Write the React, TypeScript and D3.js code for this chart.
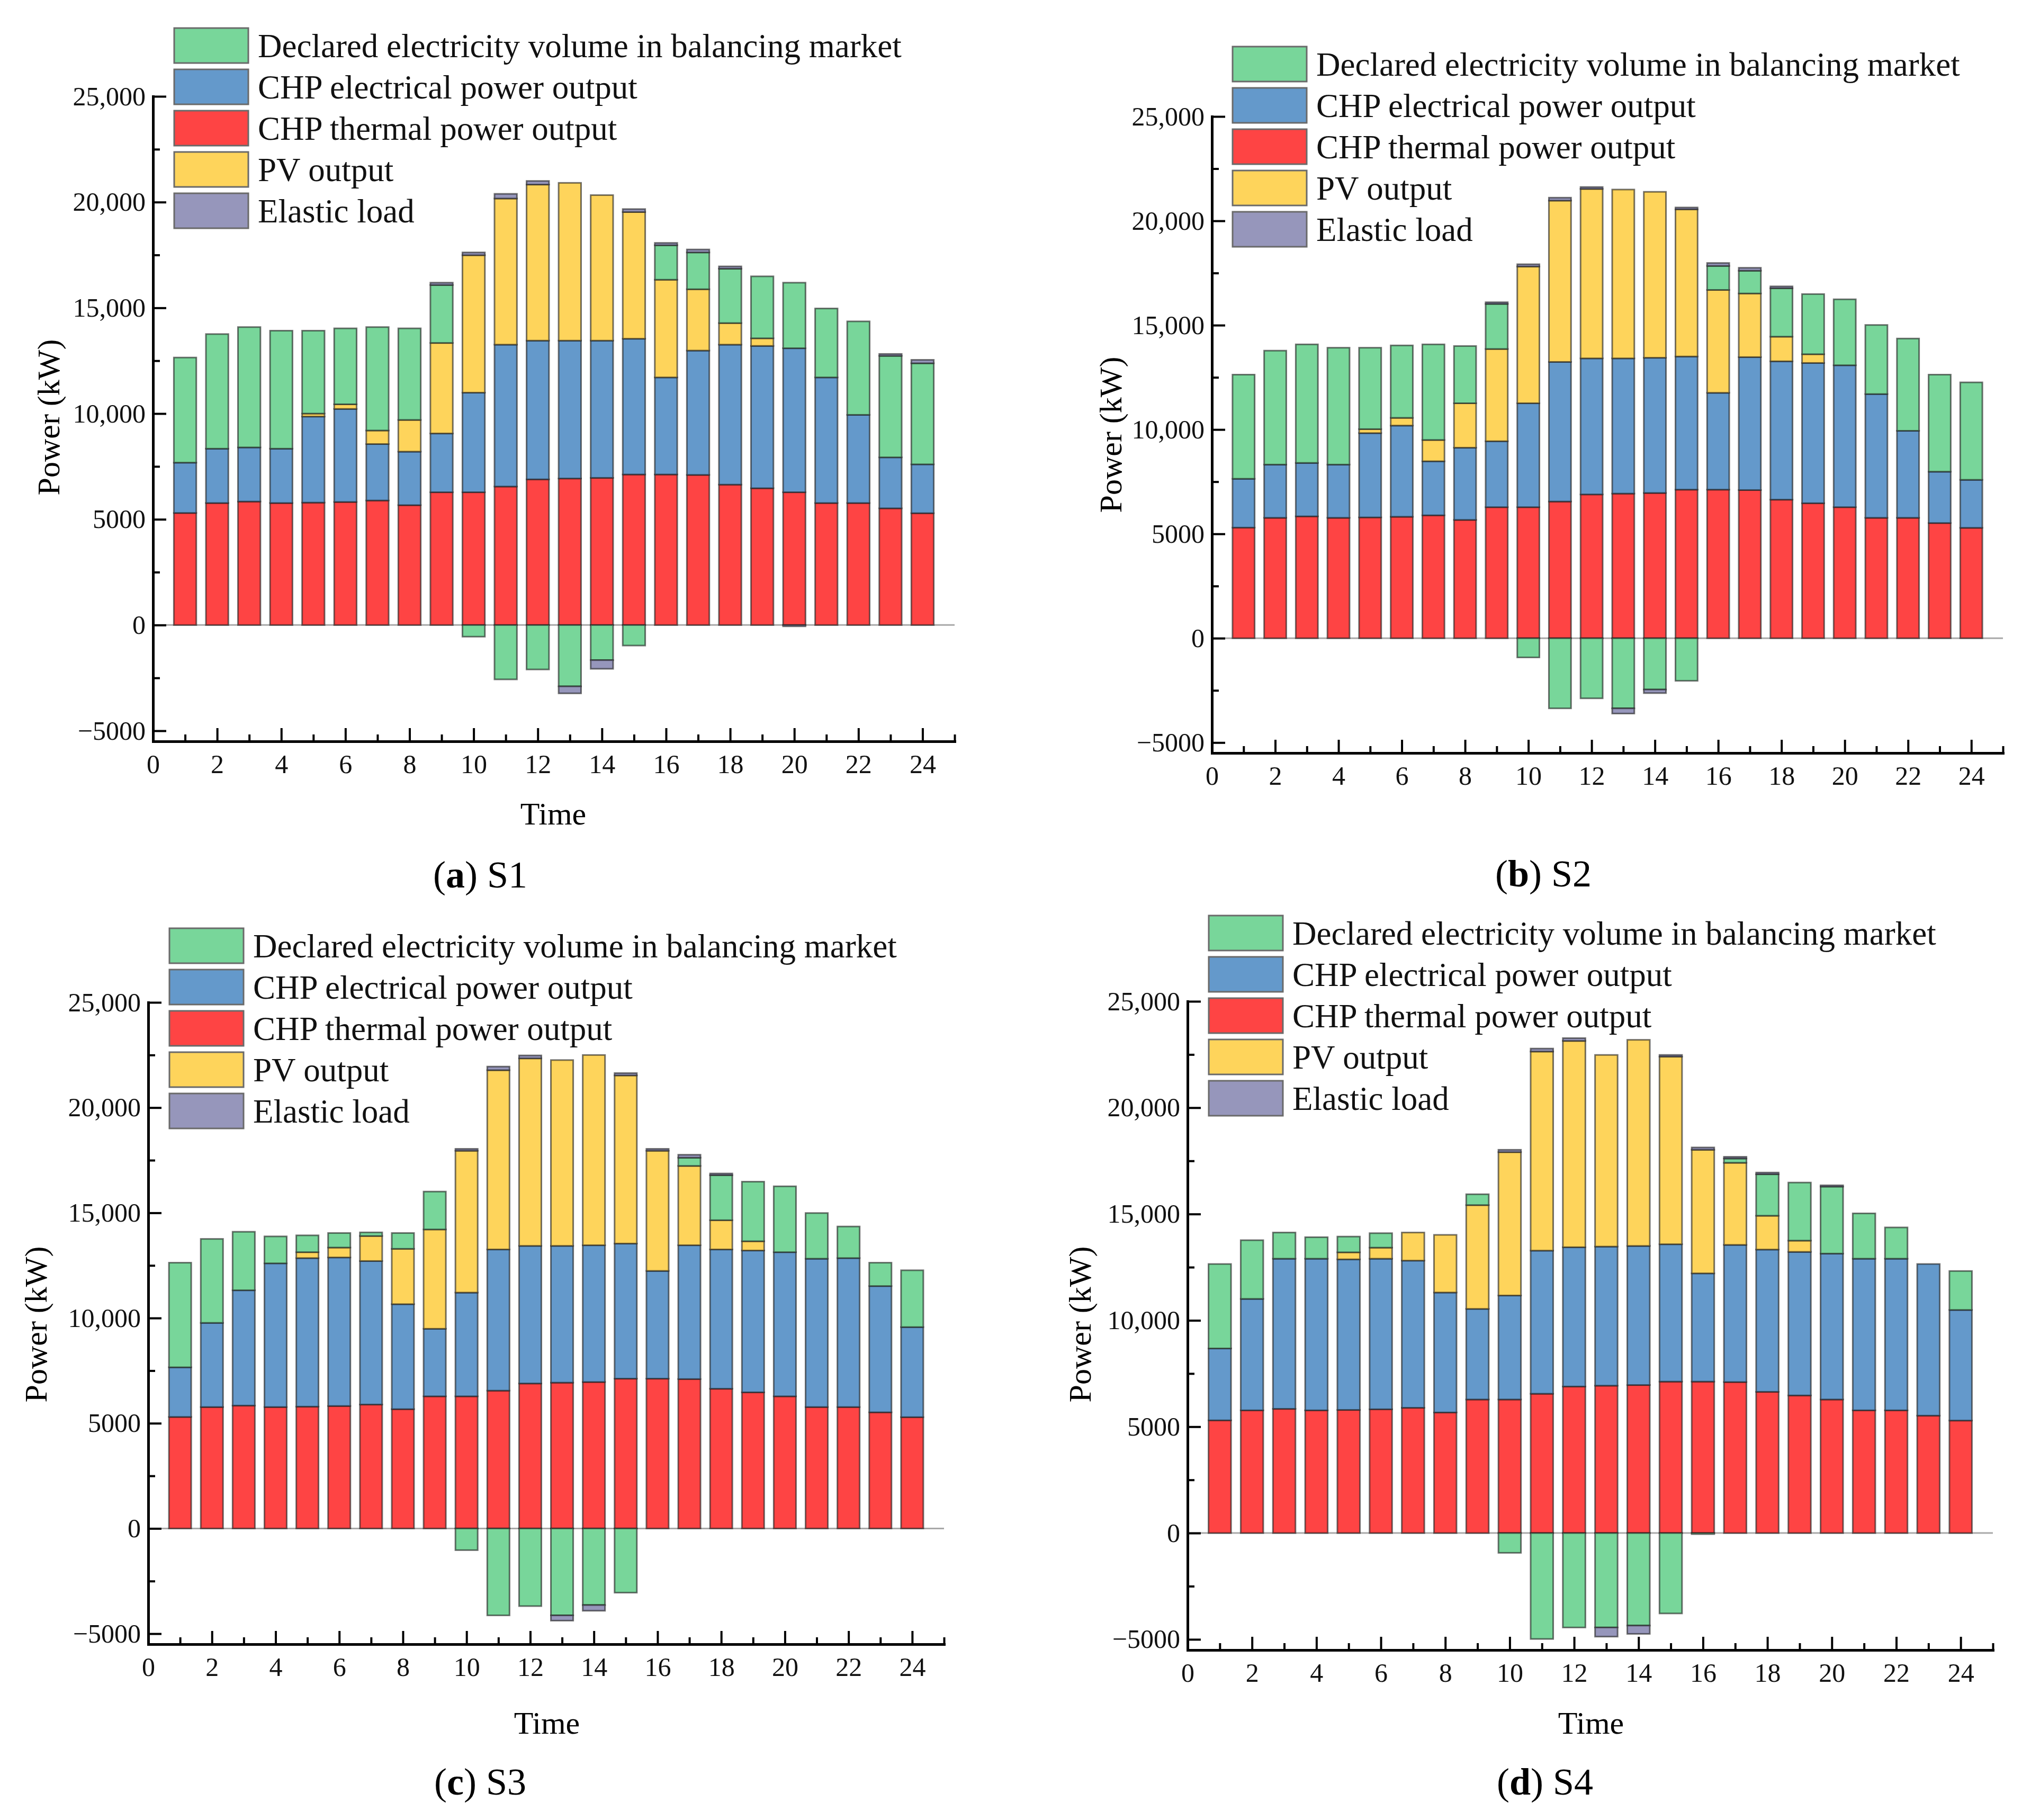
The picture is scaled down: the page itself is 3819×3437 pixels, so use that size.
import { useEffect, useRef } from "react";
import * as d3 from "d3";

// hours of the day
const HOURS = [1, 2, 3, 4, 5, 6, 7, 8, 9, 10, 11, 12, 13, 14, 15, 16, 17, 18, 19, 20, 21, 22, 23, 24];

// CHP thermal power output (same in every scenario)
const THERMAL = [5300, 5770, 5840, 5770, 5790, 5820, 5890, 5670, 6280, 6280, 6550, 6890, 6930, 6960, 7120, 7120, 7100, 6640, 6470, 6280, 5770, 5770, 5520, 5290];

// S1
const ELEC_S1 = [2380, 2570, 2560, 2570, 4070, 4400, 2670, 2530, 2780, 4710, 6710, 6560, 6520, 6490, 6420, 4590, 5880, 6620, 6730, 6810, 5940, 4170, 2410, 2310];
const PV_S1 = [0, 0, 0, 0, 140, 220, 640, 1500, 4280, 6500, 6910, 7380, 7460, 6880, 5990, 4620, 2900, 1020, 360, 0, 0, 0, 0, 0];
const DECL_S1 = [4970, 5420, 5690, 5580, 3920, 3590, 4890, 4330, 2740, -550, -2570, -2100, -2900, -1660, -970, 1630, 1740, 2570, 2930, 3100, 3260, 4420, 4800, 4780];
const ELASTIC_S1 = [0, 0, 0, 0, 0, 0, 0, 0, 110, 130, 220, 170, -330, -410, 140, 110, 140, 110, 0, -60, 0, 0, 90, 160];

// S2
const ELEC_S2 = [2340, 2550, 2560, 2550, 4040, 4370, 2590, 3460, 3160, 4980, 6690, 6520, 6480, 6480, 6380, 4640, 6370, 6630, 6720, 6800, 5930, 4170, 2460, 2300];
const PV_S2 = [0, 0, 0, 0, 190, 370, 1020, 2130, 4420, 6550, 7730, 8120, 8090, 7950, 7050, 4930, 3050, 1180, 420, 0, 0, 0, 0, 0];
const DECL_S2 = [4990, 5460, 5680, 5600, 3900, 3470, 4580, 2740, 2160, -920, -3360, -2880, -3360, -2460, -2040, 1150, 1090, 2320, 2880, 3160, 3310, 4420, 4650, 4670];
const ELASTIC_S2 = [0, 0, 0, 0, 0, 0, 0, 0, 80, 110, 140, 90, -250, -170, 90, 140, 140, 90, 0, 0, 0, 0, 0, 0];

// S3
const ELEC_S3 = [2360, 4000, 5480, 6830, 7060, 7060, 6820, 4990, 3210, 4930, 6710, 6540, 6500, 6500, 6420, 5120, 6360, 6620, 6740, 6850, 7050, 7080, 6000, 4280];
const PV_S3 = [0, 0, 0, 0, 280, 470, 1190, 2630, 4720, 6740, 8520, 8910, 8830, 9040, 7990, 5710, 3770, 1390, 440, 0, 0, 0, 0, 0];
const DECL_S3 = [4970, 3990, 2780, 1280, 800, 690, 170, 750, 1800, -1030, -4130, -3690, -4130, -3640, -3050, 0, 390, 2140, 2830, 3130, 2170, 1500, 1110, 2700];
const ELASTIC_S3 = [0, 0, 0, 0, 0, 0, 0, 0, 0, 90, 170, 140, -250, -270, 110, 90, 140, 80, 0, 0, 0, 0, 0, 0];

// S4
const ELEC_S4 = [3380, 5240, 7060, 7130, 7080, 7080, 6920, 5640, 4260, 4890, 6730, 6550, 6540, 6540, 6460, 5090, 6450, 6690, 6750, 6860, 7130, 7130, 7130, 5200];
const PV_S4 = [0, 0, 0, 0, 330, 520, 1320, 2710, 4880, 6740, 9360, 9700, 9010, 9690, 8820, 5810, 3860, 1590, 530, 0, 0, 0, 0, 0];
const DECL_S4 = [3970, 2760, 1230, 1010, 740, 680, 0, 0, 510, -930, -4980, -4440, -4440, -4350, -3780, -50, 200, 1950, 2730, 3150, 2130, 1470, 0, 1830];
const ELASTIC_S4 = [0, 0, 0, 0, 0, 0, 0, 0, 0, 110, 140, 130, -430, -390, 80, 110, 80, 80, 0, 60, 0, 0, 0, 0];

const X_TICKS = [0, 2, 4, 6, 8, 10, 12, 14, 16, 18, 20, 22, 24];
const X_MINOR = [1, 3, 5, 7, 9, 11, 13, 15, 17, 19, 21, 23, 25];
const Y_TICKS = [-5000, 0, 5000, 10000, 15000, 20000, 25000];
const Y_TICK_LABELS = ["\u22125000", "0", "5000", "10,000", "15,000", "20,000", "25,000"];
const Y_MINOR = [-2500, 2500, 7500, 12500, 17500, 22500];

const KEYS = ["thermal", "electrical", "pv", "declared", "elastic"];
const COLORS: Record<string, string> = {
  thermal: "#FE4444",
  electrical: "#6499CB",
  pv: "#FED45B",
  declared: "#78D69A",
  elastic: "#9696BB",
};
const LEGEND_KEYS = ["declared", "electrical", "thermal", "pv", "elastic"];
const LEGEND_LABELS = [
  "Declared electricity volume in balancing market",
  "CHP electrical power output",
  "CHP thermal power output",
  "PV output",
  "Elastic load",
];

const FONT = "'Liberation Serif', 'Times New Roman', serif";

const PANELS = [
  { tag: "a", name: "S1", elec: ELEC_S1, pv: PV_S1, decl: DECL_S1, elastic: ELASTIC_S1,
    left: 289, right: 1803, top: 182, bottom: 1400, legendX: 329, legendY: 53,
    yLabelX: 91, yLabelY: 788, timeX: 1045, timeY: 1557, capX: 907, capY: 1676 },
  { tag: "b", name: "S2", elec: ELEC_S2, pv: PV_S2, decl: DECL_S2, elastic: ELASTIC_S2,
    left: 2289, right: 3783, top: 220, bottom: 1422, legendX: 2328, legendY: 88,
    yLabelX: 2097, yLabelY: 821, timeX: null, timeY: null, capX: 2915, capY: 1674 },
  { tag: "c", name: "S3", elec: ELEC_S3, pv: PV_S3, decl: DECL_S3, elastic: ELASTIC_S3,
    left: 280, right: 1783, top: 1893, bottom: 3105, legendX: 320, legendY: 1753,
    yLabelX: 67, yLabelY: 2501, timeX: 1033, timeY: 3274, capX: 907, capY: 3389 },
  { tag: "d", name: "S4", elec: ELEC_S4, pv: PV_S4, decl: DECL_S4, elastic: ELASTIC_S4,
    left: 2243, right: 3764, top: 1891, bottom: 3116, legendX: 2283, legendY: 1729,
    yLabelX: 2039, yLabelY: 2501, timeX: 3005, timeY: 3274, capX: 2918, capY: 3389 },
];

type Panel = (typeof PANELS)[number];

function drawPanel(root: d3.Selection<SVGGElement, unknown, null, undefined>, p: Panel) {
  const g = root.append("g");
  const x = d3.scaleLinear().domain([0, 25]).range([p.left, p.right]);
  const y = d3.scaleLinear().domain([-5500, 25000]).range([p.bottom, p.top]);

  const rows = HOURS.map((h, i) => ({
    hour: h,
    thermal: THERMAL[i],
    electrical: p.elec[i],
    pv: p.pv[i],
    declared: p.decl[i],
    elastic: p.elastic[i],
  }));

  const stacked = d3
    .stack<any>()
    .keys(KEYS)
    .offset(d3.stackOffsetDiverging)(rows);

  // zero line
  g.append("line")
    .attr("x1", x(0))
    .attr("x2", x(25))
    .attr("y1", y(0))
    .attr("y2", y(0))
    .attr("stroke", "#a8a8a8")
    .attr("stroke-width", 3);

  const barW = x(0.7) - x(0);
  stacked.forEach((s) => {
    g.append("g")
      .selectAll("rect")
      .data(s.filter((d) => d[1] !== d[0]))
      .join("rect")
      .attr("x", (d) => x(d.data.hour) - barW / 2)
      .attr("width", barW)
      .attr("y", (d) => y(d[1]))
      .attr("height", (d) => y(d[0]) - y(d[1]))
      .attr("fill", COLORS[s.key])
      .attr("stroke", "#1a1a1a")
      .attr("stroke-opacity", 0.6)
      .attr("stroke-width", 3);
  });

  // y axis
  const yAxis = g
    .append("g")
    .attr("transform", `translate(${x(0)},0)`)
    .call(
      d3
        .axisLeft(y)
        .tickValues(Y_TICKS)
        .tickFormat((_d, i) => Y_TICK_LABELS[i])
        .tickSizeInner(-25)
        .tickSizeOuter(0)
        .tickPadding(14),
    );
  g.append("g")
    .attr("transform", `translate(${x(0)},0)`)
    .call(d3.axisLeft(y).tickValues(Y_MINOR).tickFormat(() => "").tickSizeInner(-13).tickSizeOuter(0))
    .call((a) => a.select(".domain").remove())
    .selectAll("line")
    .attr("stroke-width", 4);

  // x axis
  const xAxis = g
    .append("g")
    .attr("transform", `translate(0,${p.bottom})`)
    .call(
      d3
        .axisBottom(x)
        .tickValues(X_TICKS)
        .tickFormat((d) => String(d))
        .tickSizeInner(-25)
        .tickSizeOuter(0)
        .tickPadding(24),
    );
  g.append("g")
    .attr("transform", `translate(0,${p.bottom})`)
    .call(d3.axisBottom(x).tickValues(X_MINOR).tickFormat(() => "").tickSizeInner(-13).tickSizeOuter(0))
    .call((a) => a.select(".domain").remove())
    .selectAll("line")
    .attr("stroke-width", 4);

  [yAxis, xAxis].forEach((a) => {
    a.attr("font-family", FONT).attr("font-size", 50);
    a.select(".domain").attr("stroke-width", 5).attr("stroke-linecap", "square");
    a.selectAll(".tick line").attr("stroke-width", 4);
    a.selectAll(".tick text").attr("fill", "#111");
  });

  // axis titles
  g.append("text")
    .attr("transform", `translate(${p.yLabelX},${p.yLabelY}) rotate(-90)`)
    .attr("text-anchor", "middle")
    .attr("dy", "0.35em")
    .attr("font-family", FONT)
    .attr("font-size", 60)
    .text("Power (kW)");

  if (p.timeX !== null) {
    g.append("text")
      .attr("x", p.timeX)
      .attr("y", p.timeY)
      .attr("text-anchor", "middle")
      .attr("font-family", FONT)
      .attr("font-size", 60)
      .text("Time");
  }

  // caption
  const cap = g
    .append("text")
    .attr("x", p.capX)
    .attr("y", p.capY)
    .attr("text-anchor", "middle")
    .attr("font-family", FONT)
    .attr("font-size", 72);
  cap.append("tspan").text("(");
  cap.append("tspan").attr("font-weight", "bold").text(p.tag);
  cap.append("tspan").text(") " + p.name);

  // legend
  const legend = g.append("g").attr("transform", `translate(${p.legendX},${p.legendY})`);
  LEGEND_KEYS.forEach((k, i) => {
    const row = legend.append("g").attr("transform", `translate(0,${i * 78})`);
    row
      .append("rect")
      .attr("width", 140)
      .attr("height", 66)
      .attr("fill", COLORS[k])
      .attr("stroke", "#6a6a6a")
      .attr("stroke-width", 3);
    row
      .append("text")
      .attr("x", 158)
      .attr("y", 33)
      .attr("dy", "0.35em")
      .attr("font-family", FONT)
      .attr("font-size", 63)
      .attr("fill", "#111")
      .text(LEGEND_LABELS[i]);
  });
}

export default function App() {
  const svgRef = useRef<SVGSVGElement>(null);

  useEffect(() => {
    if (!svgRef.current) return;
    const svg = d3.select(svgRef.current);
    svg.selectAll("*").remove();
    svg.append("rect").attr("width", 3819).attr("height", 3437).attr("fill", "white");
    const root = svg.append("g");
    PANELS.forEach((p) => drawPanel(root as any, p));
  }, []);

  return (
    <div style={{ position: "absolute", left: 0, top: 0 }}>
      <svg ref={svgRef} width={3819} height={3437} viewBox="0 0 3819 3437" />
    </div>
  );
}
